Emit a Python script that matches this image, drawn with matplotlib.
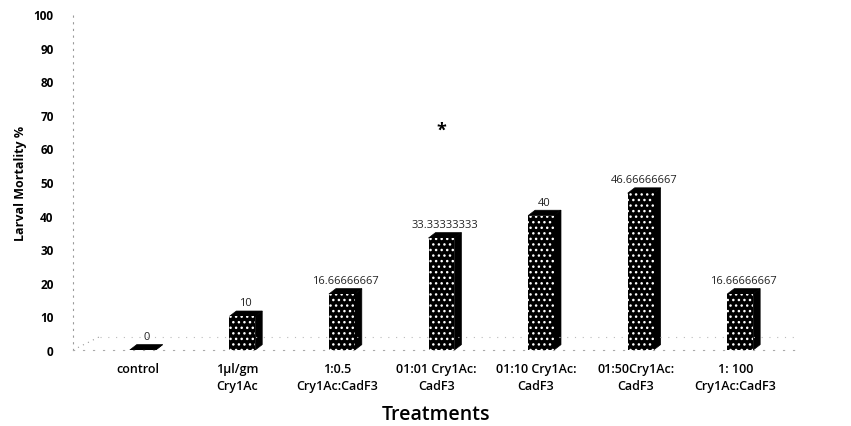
import matplotlib
matplotlib.use("Agg")
import matplotlib.pyplot as plt
import matplotlib.patches as patches
import numpy as np

categories = ["control", "1\u00b5l/gm\nCry1Ac", "1:0.5\nCry1Ac:CadF3", "01:01 Cry1Ac:\nCadF3",
              "01:10 Cry1Ac:\nCadF3", "01:50Cry1Ac:\nCadF3", "1: 100\nCry1Ac:CadF3"]
mortality = [0, 10, 16.66666667, 33.33333333, 40, 46.66666667, 16.66666667]
value_labels = ["0", "10", "16.66666667", "33.33333333", "40", "46.66666667", "16.66666667"]
star_at = 3        # category carrying the asterisk
star_value = 65.5  # height of the asterisk

yticks = list(range(0, 101, 10))

plt.rcParams['font.family'] = ['Open Sans', 'DejaVu Sans']

fig = plt.figure(figsize=[8.51, 4.27], dpi=100)
ax = fig.add_axes([73/851, (427-351)/427, 727/851, 336/427])

x = np.arange(len(categories))
bw = 0.26      # front face width
off = 0.05     # bar offset to the right of the label centre
dx = 0.07      # depth in x
dy = 1.6       # depth in y

# faint 3D floor
ax.plot([-0.65, -0.38], [0, 4], ls=(0, (1, 4)), color='#999999', lw=0.8)
ax.plot([-0.38, 6.65], [4, 4], ls=(0, (1, 6)), color='#bbbbbb', lw=0.8)

for xi, v in zip(x, mortality):
    x0 = xi + off - bw/2
    x1 = x0 + bw
    top = patches.Polygon([(x0, v), (x1, v), (x1+dx, v+dy), (x0+dx, v+dy)],
                          closed=True, facecolor='black', edgecolor='black', lw=0.5)
    side = patches.Polygon([(x1, 0), (x1+dx, dy), (x1+dx, v+dy), (x1, v)],
                           closed=True, facecolor='black', edgecolor='black', lw=0.5)
    ax.add_patch(side)
    ax.add_patch(top)

ax.bar(x + off, mortality, width=bw, color='black', edgecolor='white',
       hatch='...', linewidth=0, zorder=3)

for xi, v, lab in zip(x, mortality, value_labels):
    ax.text(xi + off + dx/2, v + dy + 0.8, lab, ha='center', va='bottom',
            fontsize=8, color='#222222')

ax.text(x[star_at] + 0.05, star_value, "*", ha='center', va='center',
        fontsize=13, fontweight='bold')

ax.set_xlim(-0.65, 6.65)
ax.set_ylim(0, 100)
ax.set_yticks(yticks)
ax.set_xticks(x)
ax.set_xticklabels(categories, fontsize=9, fontweight='semibold', linespacing=1.4)
ax.tick_params(axis='y', length=0, pad=14, labelsize=8.5)
ax.tick_params(axis='x', length=0, pad=9)
for t in ax.get_yticklabels():
    t.set_fontweight('bold')

ax.spines['top'].set_visible(False)
ax.spines['right'].set_visible(False)
ax.spines['left'].set_linestyle((0, (1, 5)))
ax.spines['left'].set_color('#999999')
ax.spines['bottom'].set_linestyle((0, (1, 8)))
ax.spines['bottom'].set_color('#aaaaaa')

ax.set_ylabel("Larval Mortality %", fontsize=9, fontweight='bold', labelpad=5)
ax.set_xlabel("Treatments", fontsize=14, fontweight='semibold', labelpad=8)

plt.savefig("out.png", dpi=100)
plt.close()
